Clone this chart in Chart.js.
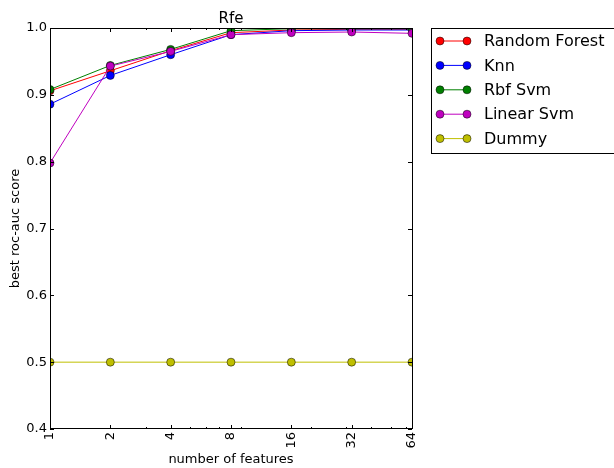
<!DOCTYPE html>
<html><head><meta charset="utf-8">
<script src="https://cdn.jsdelivr.net/npm/chart.js@4"></script>
<style>html,body{margin:0;padding:0;background:#fff}#wrap{width:614px;height:468px;position:relative}</style>
</head><body><div id="wrap"><canvas id="c" width="614" height="468"></canvas></div>
<script>
const features = [1, 2, 4, 8, 16, 32, 64];
const randomForest = [0.906, 0.936, 0.966, 0.993, 0.997, 0.998, 0.998];
const knn = [0.886, 0.929, 0.960, 0.990, 0.996, 0.997, 0.997];
const rbfSvm = [0.908, 0.944, 0.968, 0.996, 0.999, 0.999, 0.999];
const linearSvm = [0.798, 0.943, 0.965, 0.990, 0.993, 0.994, 0.992];
const dummy = [0.5, 0.5, 0.5, 0.5, 0.5, 0.5, 0.5];
const yTicks = [0.4, 0.5, 0.6, 0.7, 0.8, 0.9, 1.0];
const xMinorTicks = [3, 5, 6, 7, 9, 20, 30, 40, 50, 60];
const seriesNames = ['Random Forest', 'Knn', 'Rbf Svm', 'Linear Svm', 'Dummy'];
const seriesValues = [randomForest, knn, rbfSvm, linearSvm, dummy];
const seriesColors = ['#ff0000', '#0000ff', '#008000', '#bf00bf', '#bfbf00'];
const titleText = 'Rfe';
const xTitle = 'number of features';
const yTitle = 'best roc-auc score';

const FONT = '"DejaVu Sans", sans-serif';

const datasets = seriesNames.map((name, i) => ({
  label: name,
  data: features.map((f, j) => ({x: f, y: seriesValues[i][j]})),
  borderColor: seriesColors[i],
  backgroundColor: seriesColors[i],
  pointBackgroundColor: seriesColors[i],
  pointBorderColor: '#000',
  pointBorderWidth: 0.5,
  pointRadius: 4,
  borderWidth: 1,
  tension: 0,
  clip: 0,
  order: -i
}));

const decor = {
  id: 'decor',
  afterDatasetsDraw(chart) {
    const ctx = chart.ctx, a = chart.chartArea, xs = chart.scales.x, ys = chart.scales.y;
    ctx.save();
    ctx.strokeStyle = '#000';
    ctx.lineWidth = 1;
    ctx.beginPath();
    features.forEach(v => {
      const x = Math.round(xs.getPixelForValue(v)) + 0.5;
      ctx.moveTo(x, a.bottom); ctx.lineTo(x, a.bottom - 4);
      ctx.moveTo(x, a.top); ctx.lineTo(x, a.top + 4);
    });
    xMinorTicks.forEach(v => {
      const x = Math.round(xs.getPixelForValue(v)) + 0.5;
      ctx.moveTo(x, a.bottom); ctx.lineTo(x, a.bottom - 2);
      ctx.moveTo(x, a.top); ctx.lineTo(x, a.top + 2);
    });
    yTicks.forEach(v => {
      const y = Math.round(ys.getPixelForValue(v)) + 0.5;
      ctx.moveTo(a.left, y); ctx.lineTo(a.left + 4, y);
      ctx.moveTo(a.right, y); ctx.lineTo(a.right - 4, y);
    });
    ctx.stroke();
    ctx.strokeRect(a.left + 0.5, a.top + 0.5, a.right - a.left, a.bottom - a.top - 1);

    // title
    ctx.fillStyle = '#000';
    ctx.font = '15px ' + FONT;
    ctx.textAlign = 'center';
    ctx.textBaseline = 'alphabetic';
    ctx.fillText(titleText, (a.left + a.right) / 2, 23);

    // legend
    const lx = 431.5, ly = 28.5, lw = 200, lh = 125;
    ctx.strokeStyle = '#000';
    ctx.strokeRect(lx, ly, lw, lh);
    ctx.font = '16px ' + FONT;
    ctx.textAlign = 'left';
    ctx.textBaseline = 'middle';
    seriesNames.forEach((name, i) => {
      const y = 41 + i * 24.4;
      ctx.strokeStyle = seriesColors[i];
      ctx.lineWidth = 1;
      ctx.beginPath(); ctx.moveTo(440, y); ctx.lineTo(467, y); ctx.stroke();
      [440, 467].forEach(px => {
        ctx.beginPath(); ctx.arc(px, y, 4, 0, Math.PI * 2);
        ctx.fillStyle = seriesColors[i]; ctx.fill();
        ctx.strokeStyle = '#000'; ctx.lineWidth = 0.5; ctx.stroke();
      });
      ctx.fillStyle = '#000';
      ctx.fillText(name, 484, y + 1);
    });
    ctx.restore();
  }
};

new Chart(document.getElementById('c'), {
  type: 'line',
  data: {datasets},
  options: {
    responsive: false,
    animation: false,
    devicePixelRatio: 1,
    layout: {padding: {left: 0, top: 28, right: 202, bottom: 0}},
    plugins: {legend: {display: false}, title: {display: false}, tooltip: {enabled: false}},
    scales: {
      x: {
        type: 'logarithmic',
        min: 1, max: 64,
        afterBuildTicks: s => { s.ticks = features.map(v => ({value: v})); },
        afterFit: s => { s.height = 39; },
        grid: {display: false, drawTicks: false},
        border: {display: false},
        ticks: {
          autoSkip: false, minRotation: 90, maxRotation: 90, padding: 3,
          color: '#000', font: {family: FONT, size: 13},
          callback: v => String(v)
        },
        title: {display: true, text: xTitle, color: '#000', font: {family: FONT, size: 13}, padding: {top: 0, bottom: 1}}
      },
      y: {
        type: 'linear',
        min: 0.4, max: 1.0,
        afterBuildTicks: s => { s.ticks = yTicks.map(v => ({value: v})); },
        afterFit: s => { s.width = 50; },
        grid: {display: false, drawTicks: false},
        border: {display: false},
        ticks: {padding: 3, color: '#000', font: {family: FONT, size: 13}, callback: v => Number(v).toFixed(1)},
        title: {display: true, text: yTitle, color: '#000', font: {family: FONT, size: 13}, padding: {top: 8, bottom: 0}}
      }
    }
  },
  plugins: [decor]
});
</script>
</body></html>
